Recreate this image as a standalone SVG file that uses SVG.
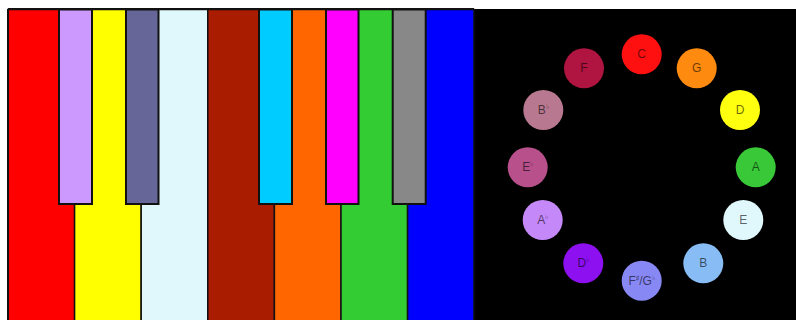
<svg xmlns="http://www.w3.org/2000/svg" width="796" height="320" viewBox="0 0 796 320">
<style>
.w{stroke:#111;stroke-width:1.5}
.b{stroke:#111;stroke-width:2}
.n{stroke:none}
.t{font-family:"Liberation Sans",Arial,sans-serif;font-size:12px;fill:#000;fill-opacity:0.6;text-anchor:middle;dominant-baseline:central}
.s{font-size:7px}
</style>
<rect x="0" y="0" width="796" height="320" fill="#fff"/>
<rect x="474" y="9" width="322" height="311" fill="#000"/>
<g id="keyboard">
<g id="key-C"><rect class="w" x="8" y="9.5" width="66.6" height="312" fill="#ff0000"/></g>
<g id="key-D"><rect class="w" x="74.6" y="9.5" width="66.6" height="312" fill="#ffff00"/></g>
<g id="key-E"><rect class="w" x="141.2" y="9.5" width="66.6" height="312" fill="#e0f8fc"/></g>
<g id="key-F"><rect class="w" x="207.8" y="9.5" width="66.6" height="312" fill="#aa1c00"/></g>
<g id="key-G"><rect class="w" x="274.4" y="9.5" width="66.6" height="312" fill="#ff6600"/></g>
<g id="key-A"><rect class="w" x="341" y="9.5" width="66.6" height="312" fill="#33cc33"/></g>
<g id="key-B"><rect class="w" x="407.6" y="9.5" width="66.4" height="312" fill="#0000ff"/></g>
<g id="key-Db"><rect class="b" x="59" y="9.5" width="33" height="194.5" fill="#cc99ff"/></g>
<g id="key-Eb"><rect class="b" x="126" y="9.5" width="32.5" height="194.5" fill="#666699"/></g>
<g id="key-Gb"><rect class="b" x="259" y="9.5" width="33" height="194.5" fill="#00ccff"/></g>
<g id="key-Ab"><rect class="b" x="326" y="9.5" width="32.5" height="194.5" fill="#ff00ff"/></g>
<g id="key-Bb"><rect class="b" x="392.7" y="9.5" width="33" height="194.5" fill="#888888"/></g>
<line x1="8" y1="9" x2="474" y2="9" stroke="#111" stroke-width="2"/>
<line x1="8" y1="9" x2="8" y2="320" stroke="#111" stroke-width="2"/>
</g>
<g id="circle-of-fifths">
<g id="n-C"><circle class="n" cx="641.7" cy="54.3" r="20" fill="#ff1010"/><text class="t" x="641.7" y="54.3">C</text></g>
<g id="n-G"><circle class="n" cx="696.7" cy="68.3" r="20" fill="#ff8a10"/><text class="t" x="696.7" y="68.3">G</text></g>
<g id="n-D"><circle class="n" cx="740" cy="110" r="20" fill="#ffff10"/><text class="t" x="740" y="110">D</text></g>
<g id="n-A"><circle class="n" cx="755.7" cy="167.3" r="20" fill="#38c838"/><text class="t" x="755.7" y="167.3">A</text></g>
<g id="n-E"><circle class="n" cx="743.3" cy="220" r="20" fill="#e0f8fc"/><text class="t" x="743.3" y="220">E</text></g>
<g id="n-B"><circle class="n" cx="703.3" cy="263.3" r="20" fill="#88bcf4"/><text class="t" x="703.3" y="263.3">B</text></g>
<g id="n-Gb"><circle class="n" cx="641.7" cy="280.7" r="20" fill="#8888f4"/><text class="t" x="641.7" y="280.7">F<tspan class="s" dy="-4">♯</tspan><tspan dy="4">/G</tspan><tspan class="s" dy="-4">♭</tspan></text></g>
<g id="n-Db"><circle class="n" cx="583.3" cy="263.3" r="20" fill="#8c10f0"/><text class="t" x="583.3" y="263.3">D<tspan class="s" dy="-4">♭</tspan></text></g>
<g id="n-Ab"><circle class="n" cx="542.7" cy="220" r="20" fill="#c488f8"/><text class="t" x="542.7" y="220">A<tspan class="s" dy="-4">♭</tspan></text></g>
<g id="n-Eb"><circle class="n" cx="527.7" cy="167.3" r="20" fill="#b8508c"/><text class="t" x="527.7" y="167.3">E<tspan class="s" dy="-4">♭</tspan></text></g>
<g id="n-Bb"><circle class="n" cx="543.3" cy="110" r="20" fill="#b87890"/><text class="t" x="543.3" y="110">B<tspan class="s" dy="-4">♭</tspan></text></g>
<g id="n-F"><circle class="n" cx="584" cy="68.3" r="20" fill="#b01440"/><text class="t" x="584" y="68.3">F</text></g>
</g>
<g id="connectors"/>
</svg>
